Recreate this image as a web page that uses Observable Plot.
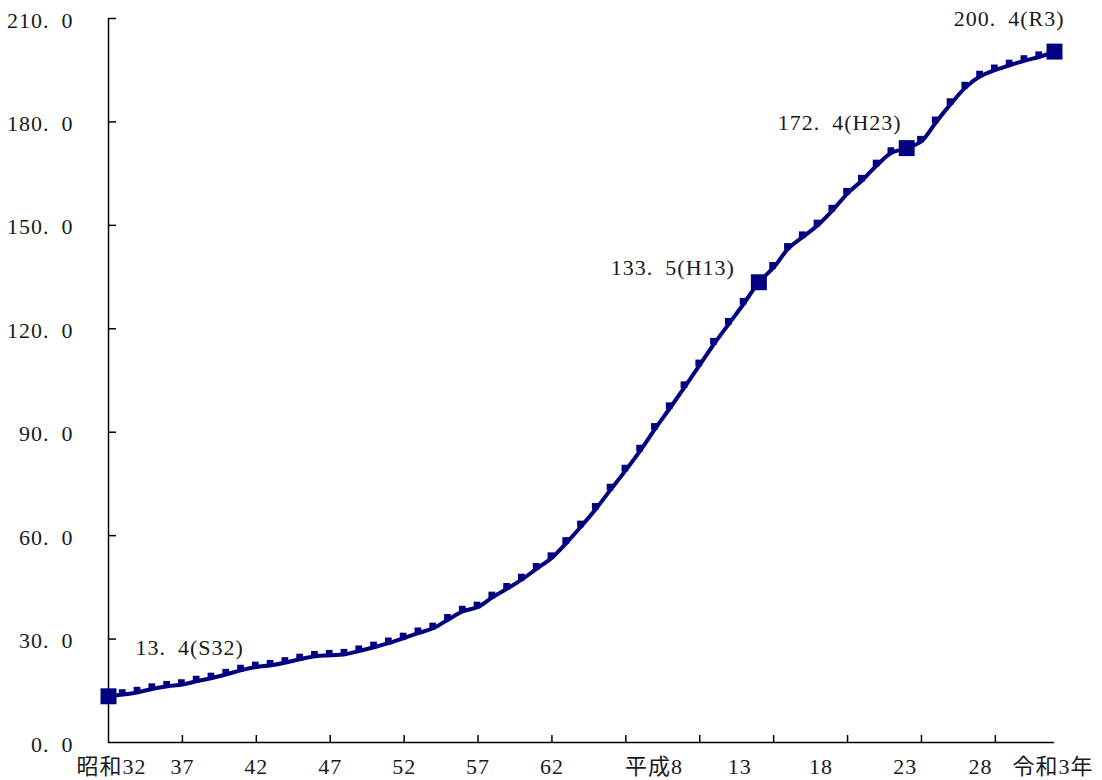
<!DOCTYPE html>
<html><head><meta charset="utf-8">
<script src="https://cdn.jsdelivr.net/npm/d3@7"></script>
<script src="https://cdn.jsdelivr.net/npm/@observablehq/plot@0.6"></script>
<style>html,body{margin:0;padding:0;background:#fff}#chart svg{display:block}</style>
</head><body><div id="chart"></div>
<script>
const years = [1957,1958,1959,1960,1961,1962,1963,1964,1965,1966,1967,1968,1969,1970,
  1971,1972,1973,1974,1975,1976,1977,1978,1979,1980,1981,1982,1983,1984,1985,1986,1987,
  1988,1989,1990,1991,1992,1993,1994,1995,1996,1997,1998,1999,2000,2001,2002,2003,2004,
  2005,2006,2007,2008,2009,2010,2011,2012,2013,2014,2015,2016,2017,2018,2019,2020,2021];
const values = [13.4,13.9,14.6,15.6,16.3,16.8,17.8,18.7,19.8,21.0,21.9,22.4,23.2,24.2,
  25.0,25.3,25.6,26.6,27.7,28.9,30.3,31.8,33.2,35.7,38.1,39.3,42.2,44.7,47.4,50.5,53.6,
  58.0,62.8,67.9,73.5,79.0,84.8,91.1,97.1,103.2,109.5,115.8,121.6,127.4,133.5,137.8,143.3,146.7,
  150.1,154.4,159.3,163.1,167.5,171.1,172.4,174.4,180.0,185.3,190.1,193.3,195.1,196.5,197.8,198.9,200.4];
const yTicks = [0,30,60,90,120,150,180,210];
const xTickYears = [1957,1962,1967,1972,1977,1982,1987,1992,1997,2002,2007,2012,2017];
const xLabels = ["昭和32","37","42","47","52","57","62","平成8","13","18","23","28","令和3年"];
const xLabelYears = [1957.2,1962,1967,1972,1977,1982,1987,1993.9,1999.7,2005.2,2010.9,2016,2020.9];
const highlightYears = [1957,2001,2011,2021];
const highlightLabels = ["13. 4(S32)","133. 5(H13)","172. 4(H23)","200. 4(R3)"];

const data = years.map((year, i) => ({year, value: values[i]}));
const hl = highlightYears.map((y, i) => ({year: y, value: values[years.indexOf(y)], label: highlightLabels[i].replace(". ", ".\u2002")}));
const small = data.filter(d => !highlightYears.includes(d.year));

const navy = "#000080";
const ink = "#1a1a1a";
const font = "'Liberation Serif','Noto Sans CJK JP',serif";
const fs = 22;

const chart = Plot.plot({
  width: 1102, height: 780,
  marginLeft: 108, marginRight: 48, marginTop: 18, marginBottom: 38,
  style: {fontFamily: font, fontSize: fs + "px", color: ink, background: "#fff", overflow: "visible", letterSpacing: "1px"},
  x: {domain: [1957, 2021]},
  y: {domain: [0, 210]},
  marks: [
    Plot.ruleX([1957], {y1: 0, y2: 210, stroke: "#000", strokeWidth: 1.5}),
    Plot.ruleY([0], {x1: 1957, x2: 2021, stroke: "#000", strokeWidth: 1.5}),
    Plot.axisY({ticks: yTicks.filter(v => v > 0), tickSize: 8, dx: 8, fill: "none", stroke: "#000", strokeWidth: 1.5, label: null}),
    Plot.axisY({ticks: yTicks, tickSize: 0, tickPadding: 35, dy: 2, stroke: "none", fill: ink, fontSize: fs, label: null,
      tickFormat: d => d.toFixed(1).replace(".", ".\u2002")}),
    Plot.axisX({ticks: xTickYears.slice(1), tickSize: 7, dy: -7, fill: "none", stroke: "#000", strokeWidth: 1.5, label: null}),
    Plot.text(xLabels, {x: (d, i) => xLabelYears[i], y: () => 0, dy: 24, text: d => d, fill: ink, fontSize: fs}),
    Plot.line(data, {x: "year", y: "value", stroke: navy, strokeWidth: 4, curve: "catmull-rom"}),
    Plot.dot(small, {x: "year", y: "value", symbol: "square", r: 3.8, fill: navy, dx: -1, dy: -2}),
    Plot.dot(hl, {x: "year", y: "value", symbol: "square", r: 9, fill: navy}),
    Plot.text(hl.slice(0, 1), {x: "year", y: "value", text: "label", textAnchor: "start", dx: 27, dy: -48, fill: ink, fontSize: fs}),
    Plot.text(hl.slice(1, 2), {x: "year", y: "value", text: "label", textAnchor: "end", dx: -24, dy: -14, fill: ink, fontSize: fs}),
    Plot.text(hl.slice(2, 3), {x: "year", y: "value", text: "label", textAnchor: "end", dx: -5, dy: -25, fill: ink, fontSize: fs}),
    Plot.text(hl.slice(3, 4), {x: "year", y: "value", text: "label", textAnchor: "end", dx: 10, dy: -33, fill: ink, fontSize: fs})
  ]
});
document.getElementById("chart").appendChild(chart);
</script>
</body></html>
